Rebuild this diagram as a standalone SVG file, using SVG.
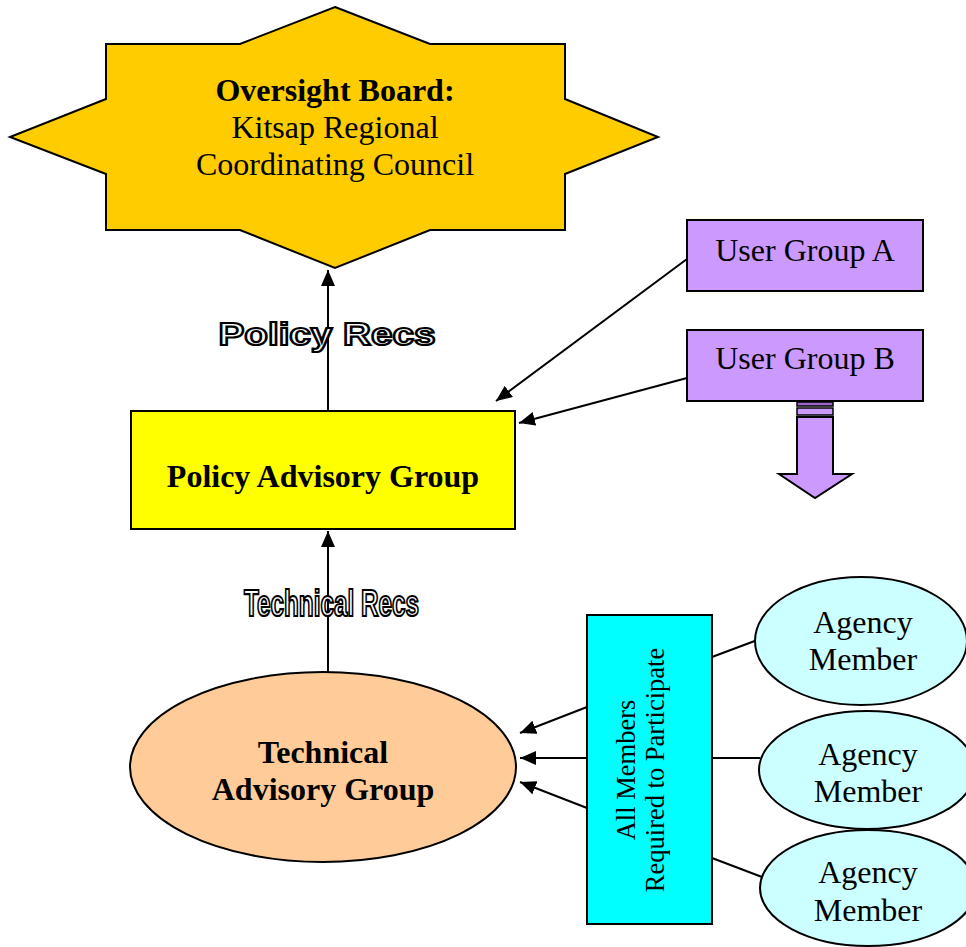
<svg xmlns="http://www.w3.org/2000/svg" width="966" height="947" viewBox="0 0 966 947">
<defs>
<marker id="ah" markerUnits="userSpaceOnUse" markerWidth="18" markerHeight="14" refX="16" refY="7" orient="auto">
<path d="M0,0 L16,7 L0,14 Z" fill="#000"/>
</marker>
<style>
.serif{font-family:"Liberation Serif","Times New Roman",serif;font-size:32px;fill:#000;text-anchor:middle}
.b{font-weight:bold}
.small{font-size:26.5px}
.shape{stroke:#000;stroke-width:2}
.conn{stroke:#000;stroke-width:2;fill:none}
.outl{font-family:"Liberation Sans",Arial,sans-serif;font-weight:bold;fill:#fff;stroke:#000;stroke-width:2.2;text-anchor:middle}
</style>
</defs>
<rect width="966" height="947" fill="#fff"/>

<g id="connectors">
<line class="conn" x1="328" y1="410" x2="328" y2="270" marker-end="url(#ah)"/>
<line class="conn" x1="328" y1="672" x2="328" y2="531" marker-end="url(#ah)"/>
<line class="conn" x1="687" y1="259" x2="496" y2="401" marker-end="url(#ah)"/>
<line class="conn" x1="687" y1="378" x2="519" y2="423" marker-end="url(#ah)"/>
<line class="conn" x1="587" y1="707" x2="520" y2="733" marker-end="url(#ah)"/>
<line class="conn" x1="587" y1="758" x2="520" y2="758" marker-end="url(#ah)"/>
<line class="conn" x1="587" y1="808" x2="520" y2="782" marker-end="url(#ah)"/>
<line class="conn" x1="712" y1="657" x2="760" y2="639"/>
<line class="conn" x1="712" y1="758" x2="760" y2="758"/>
<line class="conn" x1="712" y1="858" x2="762" y2="877"/>
</g>

<g id="label-policy-recs">
<text class="outl" x="327" y="345" font-size="32" textLength="217" lengthAdjust="spacingAndGlyphs">Policy Recs</text>
</g>
<g id="label-technical-recs">
<text class="outl" x="331.5" y="616" font-size="36" textLength="175" lengthAdjust="spacingAndGlyphs">Technical Recs</text>
</g>

<g id="oversight-board">
<polygon class="shape" fill="#FFCC00" points="335,7 430,44 565,44 565,99 658,137 565,174 565,230 430,230 335,268 240,230 106,230 106,174 10,137 106,99 106,44 240,44"/>
<text class="serif b" x="335" y="101">Oversight Board:</text>
<text class="serif" x="335" y="138">Kitsap Regional</text>
<text class="serif" x="335" y="175">Coordinating Council</text>
</g>

<g id="policy-advisory-group">
<rect class="shape" x="131" y="411" width="384" height="118" fill="#FFFF00"/>
<text class="serif b" x="323" y="487">Policy Advisory Group</text>
</g>

<g id="user-group-a">
<rect class="shape" x="687" y="220" width="236" height="71" fill="#CC99FF"/>
<text class="serif" x="805" y="261">User Group A</text>
</g>

<g id="user-group-b">
<rect class="shape" x="687" y="330" width="236" height="71" fill="#CC99FF"/>
<text class="serif" x="805" y="369">User Group B</text>
<rect x="797" y="402" width="36" height="4" fill="#9966CC" stroke="#000" stroke-width="1.5"/>
<rect x="797" y="408" width="36" height="7" fill="#CC99FF" stroke="#000" stroke-width="1.5"/>
<polygon class="shape" fill="#CC99FF" points="797,417 833,417 833,474 852,474 815,498 779,474 797,474"/>
</g>

<g id="technical-advisory-group">
<ellipse class="shape" cx="323" cy="767" rx="193" ry="95" fill="#FFCC99"/>
<text class="serif b" x="323" y="763">Technical</text>
<text class="serif b" x="323" y="800">Advisory Group</text>
</g>

<g id="all-members">
<rect class="shape" x="587" y="615" width="125" height="309" fill="#00FFFF"/>
<text class="serif small" transform="translate(635,770) rotate(-90)">All Members</text>
<text class="serif small" transform="translate(664,770) rotate(-90)">Required to Participate</text>
</g>

<g id="agency-member-1">
<ellipse class="shape" cx="861" cy="641" rx="106" ry="64" fill="#CCFFFF"/>
<text class="serif" x="863" y="633">Agency</text>
<text class="serif" x="863" y="670">Member</text>
</g>
<g id="agency-member-2">
<ellipse class="shape" cx="867" cy="770" rx="108" ry="59" fill="#CCFFFF"/>
<text class="serif" x="868" y="765">Agency</text>
<text class="serif" x="868" y="802">Member</text>
</g>
<g id="agency-member-3">
<ellipse class="shape" cx="868" cy="888" rx="108" ry="58" fill="#CCFFFF"/>
<text class="serif" x="868" y="883">Agency</text>
<text class="serif" x="868" y="921">Member</text>
</g>
</svg>
